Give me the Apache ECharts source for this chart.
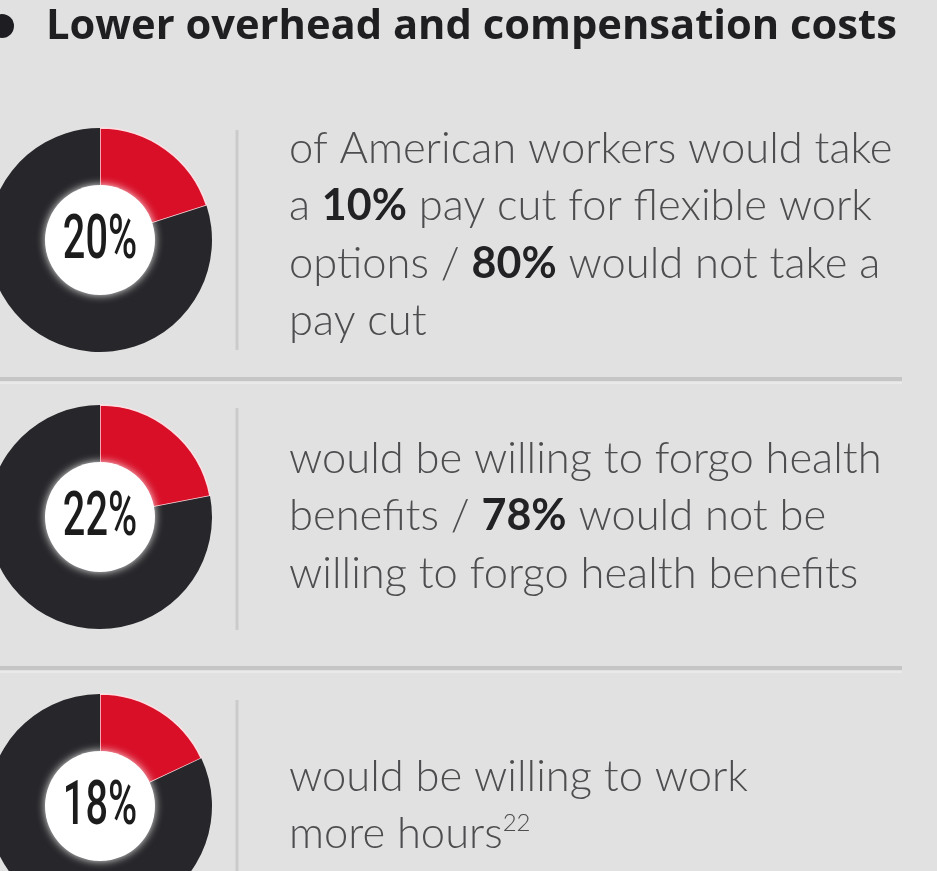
<!DOCTYPE html>
<html>
<head>
<meta charset="utf-8">
<script src="https://cdn.jsdelivr.net/npm/echarts@6/dist/echarts.min.js"></script>
<style>
  html, body { margin: 0; padding: 0; background: #e1e1e1; }
  #chart { width: 937px; height: 871px; }
</style>
</head>
<body>
<div id="chart"></div>
<script>
// Share of workers (percent) for each statement
const percents = [20, 22, 18];
const sliceNames = ['Yes', 'No'];
const heading = 'Lower overhead and compensation costs';
// Description lines; {b|...} marks bold figures, {s|...} marks a footnote number
const descriptions = [
  ['of American workers would take', 'a {b|10%} pay cut for flexible work', 'options / {b|80%} would not take a', 'pay cut'],
  ['would be willing to forgo health', 'benefits / {b|78%} would not be', 'willing to forgo health benefits'],
  ['would be willing to work', 'more hours{s|22}']
];

const RED = '#d80f27';
const DARK = '#27272b';
const centers = [[100, 240], [100, 517], [100, 806]];
const textTops = [120, 430, 748];
const rOuter = 112, rInner = 54;

const chart = echarts.init(document.getElementById('chart'), null, { renderer: 'canvas' });

const series = [];
const graphic = [];

// Heading with bullet
graphic.push({ type: 'circle', shape: { cx: 2, cy: 26, r: 12 }, style: { fill: '#1e1e22' }, z: 10 });
graphic.push({
  type: 'text', x: 46, y: 27, z: 10,
  style: { text: heading, fontFamily: 'Open Sans', fontWeight: 'bold', fontSize: 41.7, fill: '#1f1f22', verticalAlign: 'middle' }
});

// Separators between rows
[379, 668].forEach(y => {
  graphic.push({ type: 'line', shape: { x1: 0, y1: y, x2: 902, y2: y }, style: { stroke: '#c5c5c5', lineWidth: 4 }, z: 1 });
  graphic.push({ type: 'line', shape: { x1: 0, y1: y + 4, x2: 902, y2: y + 4 }, style: { stroke: '#e9e9e9', lineWidth: 2 }, z: 1 });
});
const vSpans = [[130, 350], [408, 630], [700, 871]];
vSpans.forEach(([a, b]) => {
  graphic.push({ type: 'line', shape: { x1: 237, y1: a, x2: 237, y2: b }, style: { stroke: '#cbcbcb', lineWidth: 3 }, z: 1 });
});

percents.forEach((p, i) => {
  series.push({
    type: 'pie',
    center: centers[i],
    radius: [rInner, rOuter],
    startAngle: 90,
    clockwise: true,
    silent: true,
    label: { show: false },
    labelLine: { show: false },
    z: 2,
    data: [
      { name: sliceNames[0], value: p, itemStyle: { color: RED, borderColor: 'rgba(255,225,230,0.95)', borderWidth: 1.5 } },
      { name: sliceNames[1], value: 100 - p, itemStyle: { color: DARK } }
    ]
  });
  // White hole with a soft edge
  graphic.push({
    type: 'circle', shape: { cx: centers[i][0], cy: centers[i][1], r: rInner + 1 },
    style: { fill: '#ffffff', shadowBlur: 8, shadowColor: 'rgba(255,255,255,0.9)' }, z: 20
  });
  // Condensed percentage label
  graphic.push({
    type: 'text', x: centers[i][0], y: centers[i][1] + 2, scaleX: 0.64, z: 21,
    originX: 0, originY: 0,
    style: { text: p + '%', fontFamily: 'Roboto', fontWeight: 500, fontSize: 62, fill: '#1c1c1c', align: 'center', verticalAlign: 'middle' }
  });
  // Description
  graphic.push({
    type: 'text', x: 289, y: textTops[i], z: 10,
    style: {
      text: descriptions[i].join('\n'),
      fontFamily: 'Lato', fontWeight: 300, fontSize: 43.5, fill: '#4d4d50', lineHeight: 57.5, verticalAlign: 'top',
      rich: {
        b: { fontFamily: 'Lato', fontWeight: 'bold', fontSize: 43, fill: '#222225', lineHeight: 57.5 },
        s: { fontFamily: 'Lato', fontWeight: 300, fontSize: 24, fill: '#4d4d50', lineHeight: 57.5, padding: [0, 0, 22, 0] }
      }
    }
  });
});

chart.setOption({
  backgroundColor: '#e1e1e1',
  animation: false,
  series: series,
  graphic: graphic
});
</script>
</body>
</html>
